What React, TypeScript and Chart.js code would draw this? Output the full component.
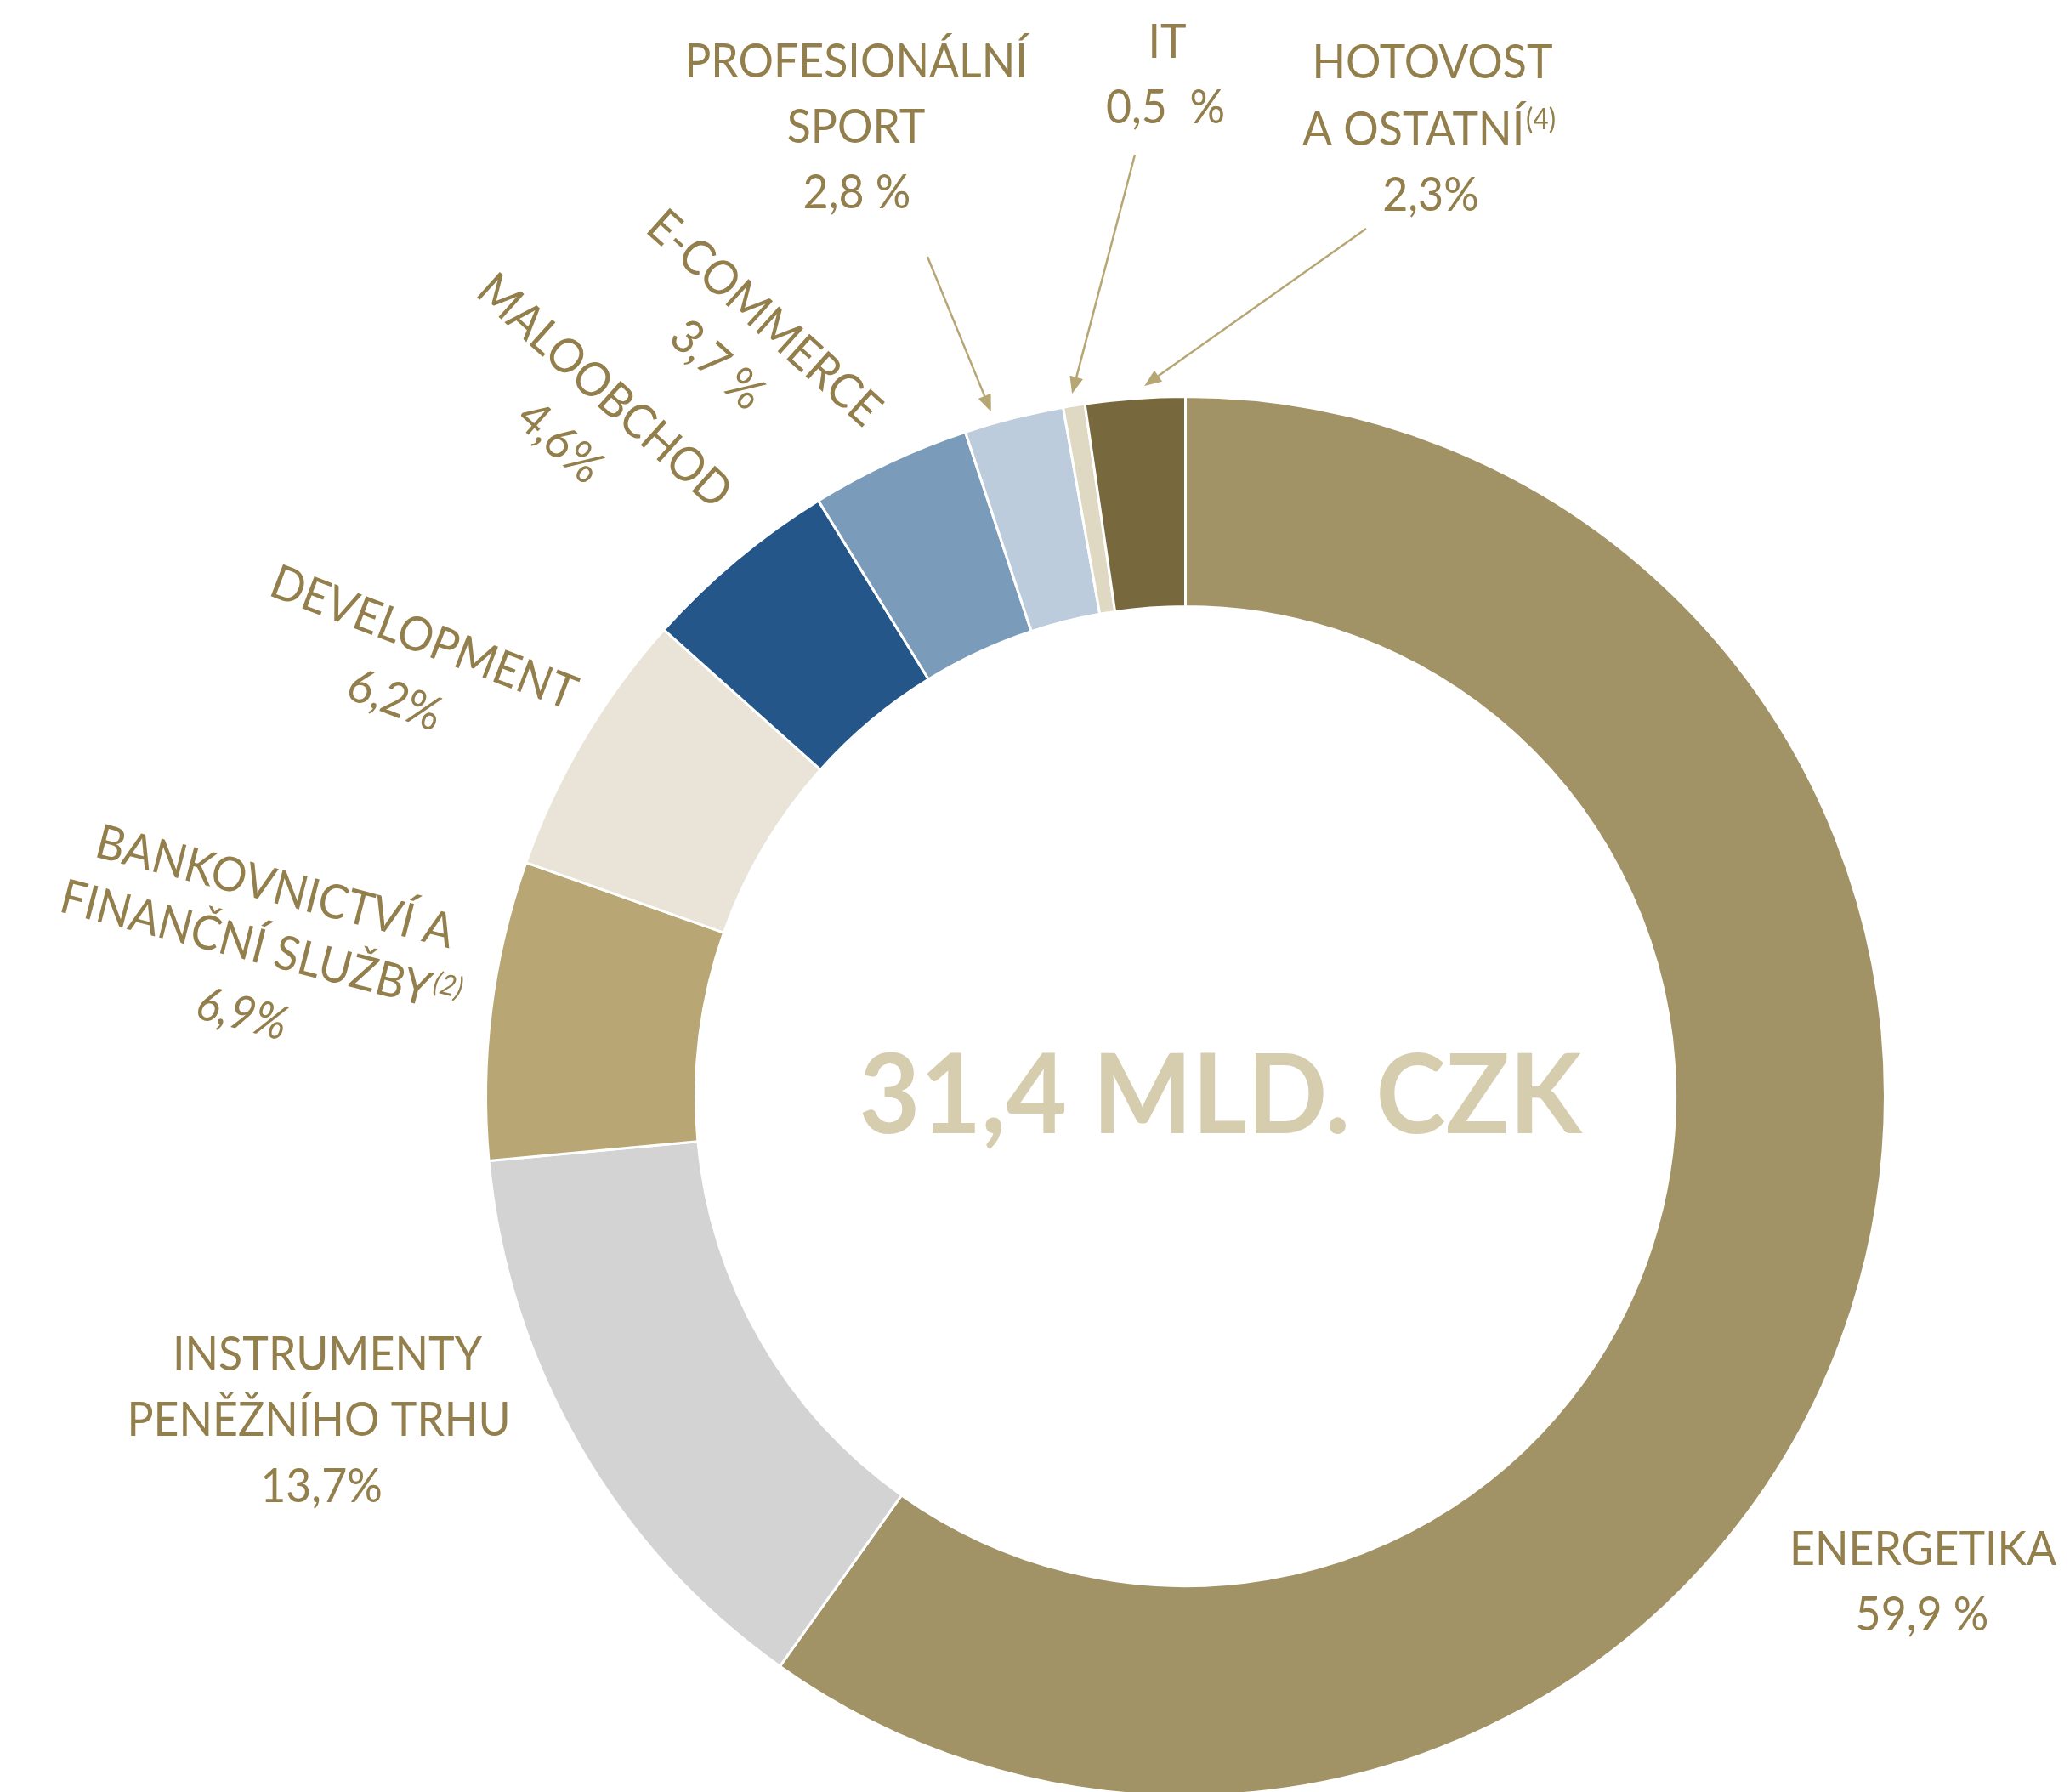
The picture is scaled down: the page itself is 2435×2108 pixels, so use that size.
import React, { useEffect, useRef } from 'react';
import { Chart, registerables } from 'chart.js';

Chart.register(...registerables);

// ---- data ----
const categories = [
  'ENERGETIKA',
  'INSTRUMENTY PENĚŽNÍHO TRHU',
  'BANKOVNICTVÍ A FINANČNÍ SLUŽBY',
  'DEVELOPMENT',
  'MALOOBCHOD',
  'E-COMMERCE',
  'PROFESIONÁLNÍ SPORT',
  'IT',
  'HOTOVOST A OSTATNÍ',
];
// slice sizes as read from the drawn ring
const shares = [59.9, 13.7, 6.9, 6.2, 4.6, 3.7, 2.3, 0.5, 2.3];
const shareLabels = ['59,9 %', '13,7%', '6,9%', '6,2%', '4,6%', '3,7 %', '2,8 %', '0,5  %', '2,3%'];
const labelLines = [
  ['ENERGETIKA'],
  ['INSTRUMENTY', 'PENĚŽNÍHO TRHU'],
  ['BANKOVNICTVÍ A', 'FINANČNÍ SLUŽBY'],
  ['DEVELOPMENT'],
  ['MALOOBCHOD'],
  ['E-COMMERCE'],
  ['PROFESIONÁLNÍ', 'SPORT'],
  ['IT'],
  ['HOTOVOST', 'A OSTATNÍ'],
];
const footnotes = ['', '', '(2)', '', '', '', '', '', '(4)'];
const totalLabel = '31,4 MLD. CZK';

// ---- styles ----
const sliceColors = [
  '#A29367', '#D3D3D3', '#B8A775', '#E9E4D7', '#24568A',
  '#7B9BBA', '#BDCCDD', '#DFD9C4', '#78683E',
];
const TEXT_COLOR = '#937F4C';
const ARROW_COLOR = '#B5A674';
const CENTER_COLOR = '#D6CCAE';
const FONT = 'Lato, "Open Sans", sans-serif';
const LABEL_SIZE = 56;
const CAP = 40;

// label layout: rotation (deg) and cap-centre point of each line (name lines + share line)
const labelLayout = [
  { rot: 0, pts: [[2262, 1821], [2261, 1898]] },
  { rot: 0, pts: [[385, 1592], [375, 1669], [378, 1747]] },
  { rot: 14.5, pts: [[324, 1042], [307, 1113], [285, 1191]], italicShare: true },
  { rot: 21, pts: [[499, 749], [465, 822]] },
  { rot: 42, pts: [[712, 459], [660, 519]] },
  { rot: 42, pts: [[900, 373], [845, 428]] },
  { rot: 0, pts: [[1007, 71], [1007, 148], [1008, 225]] },
  { rot: 0, pts: [[1373, 48], [1371, 125]] },
  { rot: 0, pts: [[1685, 72], [1681, 151], [1683, 228]] },
];
// arrow start points and where along the slice (0..1) the tip points
const arrowFrom: Record<number, [number, number, number]> = {
  6: [1091, 302, 0.3],
  7: [1335, 182, 0.5],
  8: [1607, 269, 0.6],
};

function drawLine(
  ctx: CanvasRenderingContext2D,
  text: string,
  sup: string,
  x: number,
  y: number,
  rot: number,
  sx: number,
  italic: boolean,
  supItalic: boolean,
) {
  ctx.save();
  ctx.translate(x, y);
  ctx.rotate((rot * Math.PI) / 180);
  ctx.scale(sx, 1);
  const mainFont = `${italic ? 'italic ' : ''}${LABEL_SIZE}px ${FONT}`;
  const supFont = `${supItalic ? 'italic ' : ''}34px ${FONT}`;
  ctx.font = mainFont;
  const w1 = ctx.measureText(text).width;
  let w2 = 0;
  if (sup) {
    ctx.font = supFont;
    w2 = ctx.measureText(sup).width + 2;
  }
  const start = -(w1 + w2) / 2;
  ctx.textAlign = 'left';
  ctx.textBaseline = 'alphabetic';
  ctx.font = mainFont;
  ctx.fillText(text, start, CAP / 2);
  if (sup) {
    ctx.font = supFont;
    ctx.fillText(sup, start + w1 + 2, CAP / 2 - 19);
  }
  ctx.restore();
}

const labelPlugin = {
  id: 'customLabels',
  afterDraw(chart: any) {
    const ctx: CanvasRenderingContext2D = chart.ctx;
    const meta = chart.getDatasetMeta(0);
    const first = meta.data[0];
    const { x: cx, y: cy, outerRadius } = first.getProps(['x', 'y', 'outerRadius'], true);

    // centre total
    ctx.save();
    ctx.font = `bold 130px ${FONT}`;
    const cw = ctx.measureText(totalLabel).width;
    ctx.fillStyle = CENTER_COLOR;
    ctx.textAlign = 'center';
    ctx.textBaseline = 'alphabetic';
    ctx.translate(cx + 41, cy + 43);
    ctx.scale(850 / cw, 1);
    ctx.fillText(totalLabel, 0, 0);
    ctx.restore();

    // calibrate label width
    ctx.save();
    ctx.font = `${LABEL_SIZE}px ${FONT}`;
    const sx = 364 / ctx.measureText('INSTRUMENTY').width;
    ctx.restore();

    ctx.save();
    ctx.fillStyle = TEXT_COLOR;
    labelLines.forEach((lines, i) => {
      const lay = labelLayout[i];
      lines.forEach((ln, j) => {
        const sup = j === lines.length - 1 ? footnotes[i] : '';
        const [x, y] = lay.pts[j];
        drawLine(ctx, ln, sup, x, y, lay.rot, sx, false, i === 2);
      });
      const [x, y] = lay.pts[lines.length];
      drawLine(ctx, shareLabels[i], '', x, y, lay.rot, sx, !!(lay as any).italicShare, false);
    });
    ctx.restore();

    // arrows
    ctx.save();
    ctx.strokeStyle = ARROW_COLOR;
    ctx.fillStyle = ARROW_COLOR;
    ctx.lineWidth = 2.5;
    Object.keys(arrowFrom).forEach((k) => {
      const i = Number(k);
      const arc = meta.data[i];
      const { startAngle, endAngle } = arc.getProps(['startAngle', 'endAngle'], true);
      const [fx, fy, frac] = arrowFrom[i];
      const mid = startAngle + (endAngle - startAngle) * frac;
      const r = outerRadius + 14;
      const tx = cx + Math.cos(mid) * r;
      const ty = cy + Math.sin(mid) * r;
      const ang = Math.atan2(ty - fy, tx - fx);
      const headLen = 20;
      const headW = 8;
      const bx = tx - Math.cos(ang) * headLen;
      const by = ty - Math.sin(ang) * headLen;
      ctx.beginPath();
      ctx.moveTo(fx, fy);
      ctx.lineTo(bx, by);
      ctx.stroke();
      ctx.beginPath();
      ctx.moveTo(tx, ty);
      ctx.lineTo(bx + Math.sin(ang) * headW, by - Math.cos(ang) * headW);
      ctx.lineTo(bx - Math.sin(ang) * headW, by + Math.cos(ang) * headW);
      ctx.closePath();
      ctx.fill();
    });
    ctx.restore();
  },
};

export default function App() {
  const canvasRef = useRef<HTMLCanvasElement | null>(null);

  useEffect(() => {
    const canvas = canvasRef.current;
    if (!canvas) return;
    const chart = new Chart(canvas, {
      type: 'doughnut',
      data: {
        labels: categories,
        datasets: [
          {
            data: shares,
            backgroundColor: sliceColors,
            borderColor: '#ffffff',
            borderWidth: 3,
            hoverOffset: 0,
          },
        ],
      },
      options: {
        responsive: false,
        animation: false,
        cutout: '70%',
        rotation: 0,
        layout: { padding: { left: 570, right: 216, top: 465, bottom: 6 } },
        plugins: {
          legend: { display: false },
          tooltip: { enabled: false },
        },
      },
      plugins: [labelPlugin],
    });
    return () => chart.destroy();
  }, []);

  return (
    <div
      style={{
        position: 'fixed',
        left: 0,
        top: 0,
        width: 2435,
        height: 2108,
        overflow: 'hidden',
        background: '#ffffff',
      }}
    >
      <canvas
        ref={canvasRef}
        width={2435}
        height={2120}
        style={{ display: 'block', width: 2435, height: 2120 }}
      />
    </div>
  );
}
